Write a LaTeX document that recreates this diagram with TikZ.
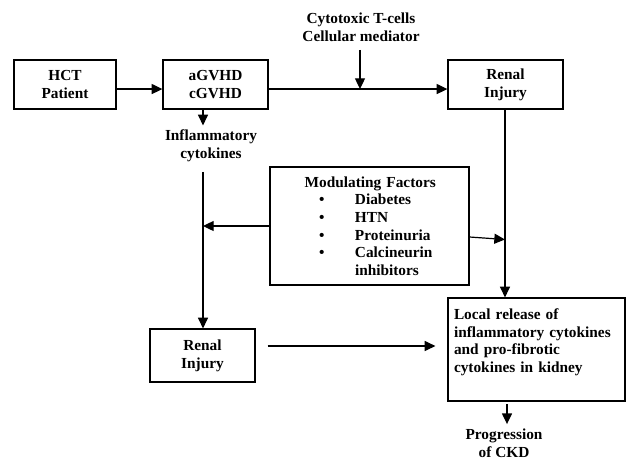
\documentclass[tikz,border=0pt]{standalone}
\usepackage{fontspec}
\setmainfont{Liberation Serif}
\usepackage{tikz}
\usetikzlibrary{arrows.meta,calc}

\begin{document}
\begin{tikzpicture}[x=0.75pt, y=-0.75pt,
                    every node/.style={font=\fontsize{11.5}{13.25}\selectfont\bfseries, align=center},
                    box/.style={draw, line width=0.9pt, inner sep=0pt},
                    edge/.style={line width=0.9pt},
                    arrow/.style={line width=0.9pt, -{Triangle[length=8pt, width=7.5pt]}}]

\useasboundingbox (0,0) rectangle (626,462);

% Top row
\node[box, minimum width=76.5pt, minimum height=36.75pt] (hct) at (65,84.5) {HCT\\Patient};
\node[box, minimum width=78.75pt, minimum height=36.75pt] (gvhd) at (215.5,84.5) {aGVHD\\cGVHD};
\node[box, minimum width=86.25pt, minimum height=36.75pt] (renalA) at (505.5,84.5) {Renal\\Injury};
\node (cyto) at (361,27) {Cytotoxic T-cells\\Cellular mediator};
\coordinate (tcell) at (360,89);

\draw[arrow] ([yshift=-3.4pt]hct.east) -- ([yshift=-3.4pt]gvhd.west);
\draw[arrow] ([yshift=-3.4pt]gvhd.east) -- ([yshift=-3.4pt]renalA.west);
\draw[arrow, shorten <=3pt] (cyto.south -| tcell) -- (tcell);

% Left branch
\coordinate (lx) at (203,0);
\node (inflam) at (211,146) {Inflammatory\\cytokines};
\node[box, minimum width=78.75pt, minimum height=39.75pt] (renalB) at (202.5,355.5) {Renal\\Injury};

\draw[arrow] (gvhd.south -| lx) -- (inflam.north -| lx);
\draw[arrow, shorten <=4pt] (inflam.south -| lx) -- (renalB.north -| lx);

% Modulating factors
\node[box, minimum width=149.25pt, minimum height=88.5pt, text width=149.25pt, align=left] (mod) at (369.5,226)
    {\hspace*{26pt}Modulating Factors\\
     \hspace*{36.75pt}\makebox[27pt][l]{\textbullet}Diabetes\\
     \hspace*{36.75pt}\makebox[27pt][l]{\textbullet}HTN\\
     \hspace*{36.75pt}\makebox[27pt][l]{\textbullet}Proteinuria\\
     \hspace*{36.75pt}\makebox[27pt][l]{\textbullet}Calcineurin\\
     \hspace*{63.75pt}inhibitors};
\coordinate (modR) at (505,239.5);

\draw[arrow] (mod.west) -- (mod.west -| lx);
\draw[arrow] ([yshift=-8.25pt]mod.east) -- (modR);

% Kidney
\node[box, minimum width=132.75pt, minimum height=77.25pt, text width=123.75pt, inner xsep=4.5pt, align=left] (local) at (536.5,349.5)
    {Local release of\\inflammatory cytokines\\and pro-fibrotic\\cytokines in kidney\\\mbox{}};
\node (ckd) at (504,443) {Progression\\of CKD};
\coordinate (rx) at (505,0);
\coordinate (ly) at (0,346);
\coordinate (px) at (507,0);

\draw[arrow] (renalA.south -| rx) -- (local.north -| rx);
\draw[arrow, shorten <=9pt, shorten >=9pt] (renalB.east |- ly) -- (local.west |- ly);
\draw[arrow, shorten <=2pt] (local.south -| px) -- (ckd.north -| px);

\end{tikzpicture}
\end{document}
